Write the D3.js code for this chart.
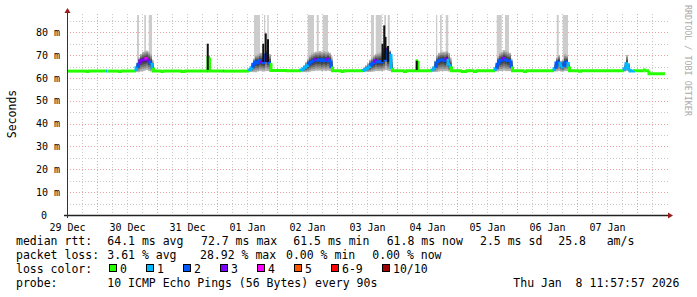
<!DOCTYPE html>
<html>
<head>
<meta charset="utf-8">
<script src="https://cdn.jsdelivr.net/npm/d3@7"></script>
<style>
body { margin: 0; background: #fff; }
svg text { font-family: "DejaVu Sans Mono", monospace; white-space: pre; }
</style>
</head>
<body>
<svg id="chart" width="697" height="297"></svg>
<script>
// time axis: hours counted from 29 Dec 12:00
var startTime = new Date(2025, 11, 29, 12, 0, 0);
var spanHours = 240;
var yMax = 88;
var yTicks = [0, 10, 20, 30, 40, 50, 60, 70, 80];
var lossLabels = ["0", "1", "2", "3", "4", "5", "6-9", "10/10"];
var lossColors = ["#26ff00", "#00b8ff", "#0059ff", "#7e00ff", "#ff00ff", "#ff5500", "#ff0000", "#a10000"];

// [hour, median ms, lost pings]  (last entry only closes the line)
var rttSamples = [
  [0, 63.0, 0], [8, 62.8, 0], [9, 63.0, 0], [15.6, 63.0, 1], [16.2, 63.0, 0], [21, 62.8, 0], [22, 63.0, 0],
  [27.6, 64.5, 1], [28.4, 66.0, 2], [29.2, 67.5, 3], [30.0, 67.8, 3], [30.8, 68.0, 3], [31.6, 68.5, 4], [32.4, 67.5, 3], [33.2, 66.5, 2], [34.0, 64.5, 1], [34.6, 63.0, 0],
  [38, 62.8, 0], [39, 63.0, 0], [46, 62.8, 0], [47.5, 63.0, 0],
  [56.0, 63.0, 1], [56.4, 69.0, 0], [57.0, 63.0, 0],
  [62.4, 63.0, 1], [62.8, 63.0, 0],
  [72.8, 63.5, 1], [73.6, 64.5, 1], [74.4, 66.0, 2], [75.2, 67.0, 2], [76.0, 66.5, 2], [76.8, 67.5, 2], [77.6, 67.0, 3], [78.4, 66.8, 2], [79.2, 70.0, 2], [80.0, 67.5, 3], [80.8, 66.5, 2], [81.6, 63.3, 0],
  [88, 63.1, 0],
  [93.6, 63.5, 1], [94.4, 64.0, 1], [95.2, 64.8, 1], [96.0, 65.5, 1], [96.8, 66.5, 2], [97.6, 67.0, 2], [98.4, 67.5, 2], [99.2, 68.0, 3], [100.0, 67.8, 2], [100.8, 68.0, 2], [101.6, 67.5, 2], [102.4, 68.0, 2], [103.2, 67.5, 2], [104.0, 68.2, 3], [104.8, 67.5, 2], [105.6, 65.0, 2], [106.2, 63.2, 0],
  [110, 62.8, 0], [111, 63.1, 0],
  [118.4, 63.3, 1], [119.2, 63.8, 1], [120.0, 64.3, 1], [120.8, 65.0, 1], [121.6, 66.0, 2], [122.4, 66.5, 2], [123.2, 67.5, 3], [124.0, 67.0, 2], [124.8, 67.2, 2], [125.6, 67.0, 2], [126.4, 68.0, 2], [127.2, 72.5, 3], [128.0, 68.0, 2], [128.8, 70.5, 2], [129.6, 64.5, 1], [130.2, 63.2, 0],
  [135, 62.8, 0], [136, 63.1, 0],
  [140.0, 67.5, 0], [140.4, 63.1, 0],
  [146.0, 63.5, 1], [146.8, 64.5, 1], [147.6, 66.5, 2], [148.4, 67.5, 2], [149.2, 67.8, 2], [150.0, 68.0, 2], [150.8, 67.5, 2], [151.6, 68.3, 3], [152.4, 66.0, 1], [153.2, 65.0, 1], [153.8, 63.2, 0],
  [158, 62.8, 0], [160, 63.1, 0], [163, 62.8, 0], [164, 63.1, 0],
  [171.2, 64.0, 1], [172.0, 66.0, 2], [172.8, 67.5, 2], [173.6, 67.8, 2], [174.4, 68.5, 3], [175.2, 68.0, 2], [176.0, 67.5, 2], [176.8, 67.5, 2], [177.6, 65.0, 2], [178.2, 63.2, 0],
  [183, 62.8, 0], [184, 63.1, 0],
  [194.8, 64.0, 1], [195.6, 66.5, 2], [196.4, 67.0, 2], [197.2, 65.5, 1], [198.0, 64.8, 1], [198.8, 66.5, 2], [199.6, 67.0, 2], [200.4, 65.0, 1], [201.0, 63.2, 0],
  [205, 62.9, 0], [206, 63.1, 0],
  [222.8, 64.0, 1], [223.6, 66.3, 1], [224.4, 64.0, 1], [225.2, 63.0, 1], [227.2, 63.1, 0], [231.0, 63.5, 0], [231.6, 63.1, 0], [232.8, 61.8, 0], [239.2, 61.8, 0]
];

// [hour, lowest ping ms, highest ping ms]; null closes a smoke block
var smokeRange = [
  [27.2, 62.8, 64.0], [27.6, 62.6, 66.5], [28.4, 62.5, 69.0], [29.2, 62.8, 70.5], [30.0, 63.0, 71.5], [30.8, 63.2, 71.8], [31.6, 63.5, 72.0], [32.4, 63.0, 71.5], [33.2, 62.8, 70.5], [34.0, 62.5, 68.0], [34.6, null, null],
  [56.0, 63.0, 65.0], [56.4, 62.8, 70.0], [57.0, null, null],
  [72.8, 62.8, 64.5], [73.6, 62.6, 66.5], [74.4, 62.5, 68.5], [75.2, 62.5, 70.0], [76.0, 62.8, 70.5], [76.8, 63.0, 71.0], [77.6, 63.0, 71.0], [78.4, 62.8, 70.8], [79.2, 63.0, 72.0], [80.0, 63.0, 71.5], [80.8, 62.8, 70.5], [81.6, null, null],
  [93.6, 62.8, 64.0], [94.4, 62.6, 65.5], [95.2, 62.5, 67.0], [96.0, 62.5, 68.5], [96.8, 62.7, 70.0], [97.6, 63.0, 70.8], [98.4, 63.0, 71.2], [99.2, 63.2, 71.5], [100.0, 63.2, 71.5], [100.8, 63.2, 71.8], [101.6, 63.0, 71.5], [102.4, 63.2, 71.8], [103.2, 63.0, 71.5], [104.0, 63.2, 71.5], [104.8, 63.0, 71.0], [105.6, 62.8, 69.5], [106.2, null, null],
  [118.4, 62.8, 64.5], [119.2, 62.7, 65.5], [120.0, 62.6, 66.5], [120.8, 62.6, 68.0], [121.6, 62.7, 69.0], [122.4, 62.8, 70.0], [123.2, 63.0, 70.5], [124.0, 63.0, 71.0], [124.8, 63.0, 71.2], [125.6, 63.0, 71.5], [126.4, 63.2, 72.0], [127.2, 63.5, 73.5], [128.0, 63.2, 72.5], [128.8, 63.0, 72.0], [129.6, 62.8, 69.0], [130.2, null, null],
  [146.0, 62.8, 65.0], [146.8, 62.6, 67.5], [147.6, 62.6, 70.0], [148.4, 62.8, 71.0], [149.2, 63.0, 71.5], [150.0, 63.0, 71.5], [150.8, 63.0, 71.5], [151.6, 63.0, 71.8], [152.4, 62.8, 71.0], [153.2, 62.6, 69.0], [153.8, null, null],
  [171.2, 62.8, 66.0], [172.0, 62.8, 69.5], [172.8, 63.0, 71.0], [173.6, 63.0, 71.5], [174.4, 63.2, 72.2], [175.2, 63.0, 72.0], [176.0, 63.0, 71.5], [176.8, 63.0, 71.0], [177.6, 62.8, 68.5], [178.2, null, null],
  [194.8, 62.8, 66.0], [195.6, 62.8, 69.0], [196.4, 63.0, 70.0], [197.2, 62.8, 67.5], [198.0, 62.8, 68.0], [198.8, 63.0, 70.5], [199.6, 63.0, 70.0], [200.4, 62.8, 67.0], [201.0, null, null],
  [222.8, 62.8, 66.0], [223.6, 63.0, 70.0], [224.4, 62.8, 66.5], [225.2, 62.8, 63.8], [226.0, null, null]
];

// [from hour, to hour] where some pings went above the top of the graph
var offScale = [
  [28.0, 28.8], [30.9, 31.6], [32.7, 34.0],
  [74.8, 77.2], [78.8, 79.3], [80.1, 80.7],
  [96.3, 98.8], [99.9, 100.7], [102.3, 104.4],
  [121.6, 122.8], [123.5, 125.9], [126.9, 127.6], [128.3, 129.1],
  [147.6, 148.1], [149.2, 149.9], [151.5, 152.5],
  [171.9, 173.9], [175.2, 176.8],
  [195.9, 196.7], [198.3, 200.4]
];

// [hour, from ms, to ms] dense ping clusters (black)
var spikes = [
  [56.3, 63.5, 75], [78.5, 67, 75], [79.5, 67, 79.5], [80.4, 67, 77],
  [126.2, 67, 75], [126.9, 68, 83], [127.4, 68, 78], [128.4, 67, 74], [139.9, 63.5, 67.5]
];

var rttStats = [64.1, 72.7, 61.5, 61.8, 2.5];
var rttStatNames = ["avg", "max", "min", "now", "sd"];
var amPerSec = 25.8;
var lossStats = [3.61, 28.92, 0.00, 0.00];
var lossStatNames = ["avg", "max", "min", "now"];
var probeText = "10 ICMP Echo Pings (56 Bytes) every 90s";
var stampText = "Thu Jan  8 11:57:57 2026";

var svg = d3.select("#chart");
var endTime = d3.timeHour.offset(startTime, spanHours);

var x = d3.scaleTime().domain([startTime, endTime]).range([67, 667]);
var y = d3.scaleLinear().domain([0, yMax]).range([215, 14]);

function hx(h) { return x(new Date(startTime.getTime() + h * 3600000)); }
function lossColor(n) {
  if (n >= 10) return lossColors[7];
  if (n >= 6) return lossColors[6];
  return lossColors[n];
}

// grid
var grid = svg.append("g");
d3.range(5, yMax, 10).forEach(function(v) {
  grid.append("line").attr("x1", 67).attr("x2", 668).attr("y1", Math.round(y(v)) + 0.5).attr("y2", Math.round(y(v)) + 0.5)
    .attr("stroke", "#c8c8c8").attr("stroke-dasharray", "1,2");
});
d3.timeHour.every(6).range(startTime, endTime).forEach(function(t) {
  if (t.getHours() == 0) return;
  grid.append("line").attr("x1", Math.round(x(t)) + 0.5).attr("x2", Math.round(x(t)) + 0.5).attr("y1", 14).attr("y2", 215)
    .attr("stroke", "#c8c8c8").attr("stroke-dasharray", "1,2");
});
yTicks.slice(1).forEach(function(v) {
  grid.append("line").attr("x1", 67).attr("x2", 668).attr("y1", Math.round(y(v)) + 0.5).attr("y2", Math.round(y(v)) + 0.5)
    .attr("stroke", "#eea0a0").attr("stroke-dasharray", "1,2");
});
d3.timeDay.range(startTime, endTime).forEach(function(t) {
  grid.append("line").attr("x1", Math.round(x(t)) + 0.5).attr("x2", Math.round(x(t)) + 0.5).attr("y1", 14).attr("y2", 215)
    .attr("stroke", "#eea0a0").attr("stroke-dasharray", "1,2");
});

// pings above the scale
svg.append("g").selectAll("rect").data(offScale).enter().append("rect")
  .attr("x", function(d) { return hx(d[0]); })
  .attr("width", function(d) { return Math.max(1, hx(d[1]) - hx(d[0])); })
  .attr("y", y(yMax) + 1)
  .attr("height", y(66) - y(yMax) - 1)
  .attr("fill", "#cccccc");

// smoke
function medianAt(h) {
  var m = rttSamples[0][1];
  rttSamples.forEach(function(d) { if (d[0] <= h) m = d[1]; });
  return m;
}
var bands = [[1, "#b4b4b4"], [0.8, "#929292"], [0.6, "#707070"], [0.4, "#4c4c4c"], [0.2, "#2a2a2a"]];
var smokeG = svg.append("g");
smokeRange.forEach(function(d, i) {
  if (d[1] == null) return;
  var next = smokeRange[i + 1];
  var med = medianAt(d[0]);
  bands.forEach(function(b) {
    var hi = med + b[0] * (d[2] - med);
    var lo = med - b[0] * (med - d[1]);
    smokeG.append("rect")
      .attr("x", hx(d[0]))
      .attr("width", hx(next[0]) - hx(d[0]))
      .attr("y", y(hi))
      .attr("height", Math.max(0, y(lo) - y(hi)))
      .attr("fill", b[1]);
  });
});

// median rtt, coloured by loss
var medG = svg.append("g");
rttSamples.slice(0, -1).forEach(function(d, i) {
  var next = rttSamples[i + 1];
  var prev = i > 0 ? rttSamples[i - 1] : d;
  medG.append("path")
    .attr("d", "M" + hx(d[0]) + "," + y(prev[1]) + "V" + y(d[1]) + "H" + hx(next[0]))
    .attr("fill", "none")
    .attr("stroke", lossColor(d[2]))
    .attr("stroke-width", 3);
});

svg.append("g").selectAll("line").data(spikes).enter().append("line")
  .attr("x1", function(d) { return hx(d[0]); })
  .attr("x2", function(d) { return hx(d[0]); })
  .attr("y1", function(d) { return y(d[1]); })
  .attr("y2", function(d) { return y(d[2]); })
  .attr("stroke", "#111").attr("stroke-width", 2);

// axes
var xAxis = svg.append("g").attr("transform", "translate(0,215)")
  .call(d3.axisBottom(x)
    .tickValues(d3.timeDay.range(d3.timeDay.floor(startTime), d3.timeDay.floor(endTime)).map(function(t) { return d3.timeHour.offset(t, 12); }))
    .tickFormat(d3.timeFormat("%d %b"))
    .tickSize(0).tickPadding(9));
xAxis.select(".domain").remove();
xAxis.selectAll("text").attr("font-family", "DejaVu Sans Mono").attr("font-size", 10).attr("fill", "#000");

var yAxis = svg.append("g").attr("transform", "translate(67,0)")
  .call(d3.axisLeft(y).tickValues(yTicks)
    .tickFormat(function(v) { return v ? v + " m" : "0"; })
    .tickSize(0).tickPadding(7));
yAxis.select(".domain").remove();
yAxis.selectAll("text").attr("font-family", "DejaVu Sans Mono").attr("font-size", 10).attr("fill", "#000")
  .attr("dx", function(v) { return v ? 0 : -13; });

svg.append("line").attr("x1", 64).attr("x2", 669).attr("y1", 215.5).attr("y2", 215.5).attr("stroke", "#222").attr("stroke-width", 1.5);
svg.append("line").attr("x1", 67.5).attr("x2", 67.5).attr("y1", 218).attr("y2", 11).attr("stroke", "#333");
svg.append("path").attr("d", "M668,212.5L673,215.5L668,218.5Z").attr("fill", "#9a1c1c");
svg.append("path").attr("d", "M64.5,13L67.5,8L70.5,13Z").attr("fill", "#9a1c1c");

svg.append("text").attr("transform", "translate(15.5,114) rotate(-90)")
  .attr("text-anchor", "middle").attr("font-size", 11.5).text("Seconds");
svg.append("text").attr("transform", "translate(685,5) rotate(90)")
  .attr("font-size", 8.4).attr("fill", "#aaa").text("RRDTOOL / TOBI OETIKER");

// legend
var leg = svg.append("g").attr("font-size", 11.5).attr("fill", "#000");
function legText(xp, yp, s) {
  return leg.append("text").attr("xml:space", "preserve").attr("x", xp).attr("y", yp).text(s);
}
var rttX = [107.3, 201, 293.3, 386.7, 480];
legText(16, 245, "median rtt:");
rttStats.forEach(function(v, i) {
  legText(rttX[i], 245, v.toFixed(1) + " ms " + rttStatNames[i]);
});
legText(558.3, 245, amPerSec.toFixed(1));
legText(606.7, 245, "am/s");

var lossX = [107.3, 200, 286, 372.3];
legText(16, 259, "packet loss:");
lossStats.forEach(function(v, i) {
  legText(lossX[i], 259, v.toFixed(2) + " % " + lossStatNames[i]);
});

legText(16, 273, "loss color:");
var bx = 109;
lossLabels.forEach(function(l, i) {
  leg.append("rect").attr("x", bx + 0.5).attr("y", 264.5).attr("width", 7).attr("height", 7)
    .attr("fill", lossColors[i]).attr("stroke", "#000");
  legText(bx + 11, 273, l);
  bx = bx + 11 + l.length * 7 + 19;
});

legText(16, 287, "probe:");
legText(107.3, 287, probeText);
legText(513.3, 287, stampText);
</script>
</body>
</html>
